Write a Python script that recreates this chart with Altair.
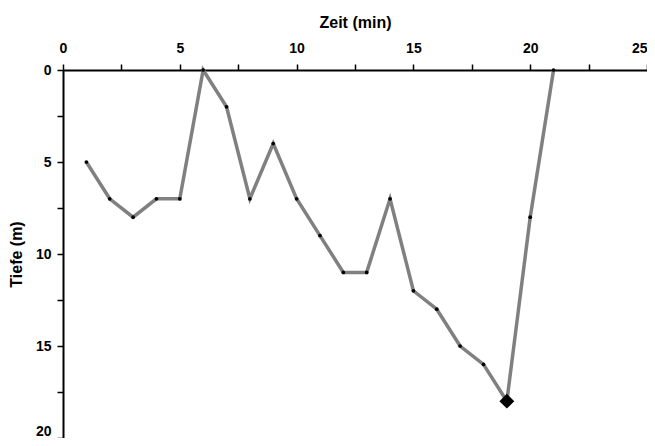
import altair as alt
import pandas as pd

zeit = [1, 2, 3, 4, 5, 6, 7, 8, 9, 10, 11, 12, 13, 14, 15, 16, 17, 18, 19, 20, 21]
tiefe = [5, 7, 8, 7, 7, 0, 2, 7, 4, 7, 9, 11, 11, 7, 12, 13, 15, 16, 18, 8, 0]
x_ticks = [0, 2.5, 5, 7.5, 10, 12.5, 15, 17.5, 20, 22.5, 25]
y_ticks = [0, 2.5, 5, 7.5, 10, 12.5, 15, 17.5, 20]

df = pd.DataFrame({"zeit": zeit, "tiefe": tiefe})
max_tiefe = max(tiefe)

FONT = "Liberation Sans"

x_enc = alt.X(
    "zeit:Q",
    scale=alt.Scale(domain=[0, 25], nice=False, zero=False),
    axis=alt.Axis(
        orient="top",
        title="Zeit (min)",
        values=x_ticks,
        labelExpr="datum.value % 5 == 0 ? datum.label : ''",
        labelAlign={"condition": {"test": "datum.value == 25", "value": "right"}, "value": "center"},
        grid=False,
        domainColor="black",
        domainWidth=2,
        tickColor="black",
        tickWidth=1.5,
        tickSize=6,
        labelFont=FONT,
        labelFontWeight="bold",
        labelFontSize=14,
        labelColor="black",
        labelPadding=9,
        labelFlush=False,
        titleFont=FONT,
        titleFontWeight="bold",
        titleFontSize=16,
        titleColor="black",
        titlePadding=11,
    ),
)
y_enc = alt.Y(
    "tiefe:Q",
    scale=alt.Scale(domain=[0, 20], reverse=True, nice=False, zero=False),
    axis=alt.Axis(
        orient="left",
        title="Tiefe (m)",
        values=y_ticks,
        labelExpr="datum.value % 5 == 0 ? datum.label : ''",
        labelBaseline={"condition": {"test": "datum.value == 20", "value": "bottom"}, "value": "middle"},
        grid=False,
        domainColor="black",
        domainWidth=2,
        tickColor="black",
        tickWidth=1.5,
        tickSize=6,
        labelFont=FONT,
        labelFontWeight="bold",
        labelFontSize=14,
        labelColor="black",
        labelPadding=6,
        labelFlush=False,
        titleFont=FONT,
        titleFontWeight="bold",
        titleFontSize=16,
        titleColor="black",
        titlePadding=11,
    ),
)

base = alt.Chart(df)
line = base.mark_line(color="#808080", strokeWidth=3.5).encode(x=x_enc, y=y_enc)
pts = base.mark_point(filled=True, color="black", size=14, opacity=1).encode(
    x="zeit:Q", y="tiefe:Q"
)
diamond = (
    base.transform_filter(alt.datum.tiefe == max_tiefe)
    .mark_point(shape="diamond", filled=True, color="black", size=220, opacity=1)
    .encode(x="zeit:Q", y="tiefe:Q")
)

chart = (
    alt.layer(line, pts, diamond)
    .properties(
        width=584,
        height=368,
        autosize=alt.AutoSizeParams(type="none"),
        padding={"left": 55, "top": 62, "right": 0, "bottom": 0},
    )
    .configure_view(stroke=None)
    .configure(background="white")
)

chart.save("out.html", embed_options={"renderer": "svg", "actions": False})
